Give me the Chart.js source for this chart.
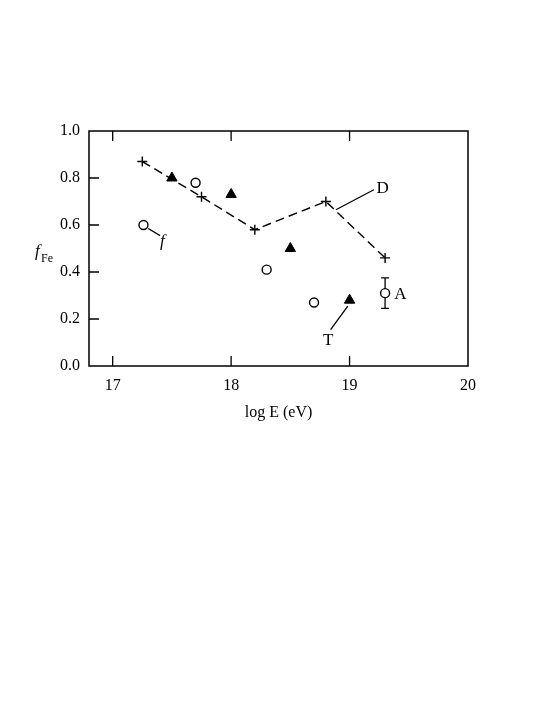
<!DOCTYPE html>
<html lang="en">
<head>
    <meta charset="UTF-8" />
    <title>fFe vs log E</title>
    <script src="https://cdn.jsdelivr.net/npm/chart.js"></script>
    <style>
        html, body { margin: 0; padding: 0; background: #fff; }
        #wrap { width: 545px; height: 705px; }
    </style>
</head>
<body>
    <div id="wrap"><canvas id="grafico"></canvas></div>

<script>
    // dados
    var xTicks = [17, 18, 19, 20];
    var yTicks = [0.0, 0.2, 0.4, 0.6, 0.8, 1.0];

    // D: cruzes com linha tracejada
    var d_logE = [17.25, 17.75, 18.2, 18.8, 19.3];
    var d_fFe = [0.87, 0.72, 0.58, 0.70, 0.46];

    // T: triangulos cheios
    var t_logE = [17.5, 18.0, 18.5, 19.0];
    var t_fFe = [0.80, 0.73, 0.50, 0.28];

    // f: circulos abertos
    var f_logE = [17.26, 17.7, 18.3, 18.7];
    var f_fFe = [0.60, 0.78, 0.41, 0.27];

    // A: circulo com barra de erro
    var a_logE = [19.3];
    var a_fFe = [0.31];
    var a_erro = [0.065];

    // rotulos com linhas de chamada (em unidades de dados)
    var rotulos = [
        { txt: 'f', italic: true, x: 17.42, y: 0.53, linha: [17.30, 0.585, 17.40, 0.555] },
        { txt: 'D', italic: false, x: 19.28, y: 0.755, linha: [18.885, 0.665, 19.205, 0.75] },
        { txt: 'T', italic: false, x: 18.82, y: 0.11, linha: [18.84, 0.155, 18.985, 0.255] },
        { txt: 'A', italic: false, x: 19.43, y: 0.305, linha: null }
    ];

    function pares(xs, ys) {
        var out = [];
        for (var i = 0; i < xs.length; i++) out.push({ x: xs[i], y: ys[i] });
        return out;
    }

    var fonte = '"Liberation Serif", "DejaVu Serif", serif';

    var moldura = {
        id: 'moldura',
        afterDraw: function (chart) {
            var ctx = chart.ctx;
            var a = chart.chartArea;
            var sx = chart.scales.x, sy = chart.scales.y;
            ctx.save();
            ctx.strokeStyle = '#000';
            ctx.lineWidth = 1.5;
            ctx.strokeRect(a.left, a.top, a.right - a.left, a.bottom - a.top);

            // marcas para dentro
            ctx.lineWidth = 1.3;
            ctx.beginPath();
            for (var i = 0; i < xTicks.length; i++) {
                var px = sx.getPixelForValue(xTicks[i]);
                if (px >= a.right - 1) continue;
                ctx.moveTo(px, a.bottom); ctx.lineTo(px, a.bottom - 10);
                ctx.moveTo(px, a.top); ctx.lineTo(px, a.top + 10);
            }
            for (var j = 0; j < yTicks.length; j++) {
                var py = sy.getPixelForValue(yTicks[j]);
                if (py <= a.top + 1 || py >= a.bottom - 1) continue;
                ctx.moveTo(a.left, py); ctx.lineTo(a.left + 10, py);
            }
            ctx.stroke();

            // barra de erro do A
            ctx.lineWidth = 1.3;
            ctx.beginPath();
            for (var k = 0; k < a_logE.length; k++) {
                var ex = sx.getPixelForValue(a_logE[k]);
                var y1 = sy.getPixelForValue(a_fFe[k] + a_erro[k]);
                var y2 = sy.getPixelForValue(a_fFe[k] - a_erro[k]);
                var yc = sy.getPixelForValue(a_fFe[k]);
                ctx.moveTo(ex, y1); ctx.lineTo(ex, yc - 4.5);
                ctx.moveTo(ex, yc + 4.5); ctx.lineTo(ex, y2);
                ctx.moveTo(ex - 4, y1); ctx.lineTo(ex + 4, y1);
                ctx.moveTo(ex - 4, y2); ctx.lineTo(ex + 4, y2);
            }
            ctx.stroke();

            // rotulos
            ctx.fillStyle = '#000';
            ctx.textAlign = 'center';
            ctx.textBaseline = 'middle';
            ctx.lineWidth = 1.3;
            rotulos.forEach(function (r) {
                if (r.linha) {
                    ctx.beginPath();
                    ctx.moveTo(sx.getPixelForValue(r.linha[0]), sy.getPixelForValue(r.linha[1]));
                    ctx.lineTo(sx.getPixelForValue(r.linha[2]), sy.getPixelForValue(r.linha[3]));
                    ctx.stroke();
                }
                ctx.font = (r.italic ? 'italic ' : '') + '17px ' + fonte;
                ctx.fillText(r.txt, sx.getPixelForValue(r.x), sy.getPixelForValue(r.y));
            });

            // titulo do eixo y: f com subscrito Fe
            ctx.textAlign = 'left';
            ctx.textBaseline = 'alphabetic';
            ctx.font = 'italic 17px ' + fonte;
            ctx.fillText('f', 35, 256);
            ctx.font = '12px ' + fonte;
            ctx.fillText('Fe', 41, 262);
            ctx.restore();
        }
    };

    new Chart(document.getElementById('grafico'), {
        type: 'scatter',
        data: {
            datasets: [
                {
                    label: 'D',
                    data: pares(d_logE, d_fFe),
                    showLine: true,
                    borderColor: '#000',
                    borderWidth: 1.4,
                    borderDash: [9, 5],
                    pointStyle: 'cross',
                    pointRadius: 5,
                    pointBorderWidth: 1.4,
                    pointBorderColor: '#000'
                },
                {
                    label: 'T',
                    data: pares(t_logE, t_fFe),
                    pointStyle: 'triangle',
                    pointRadius: 6,
                    pointBackgroundColor: '#000',
                    pointBorderColor: '#000',
                    pointBorderWidth: 1
                },
                {
                    label: 'f',
                    data: pares(f_logE, f_fFe),
                    pointStyle: 'circle',
                    pointRadius: 4.5,
                    pointBackgroundColor: '#fff',
                    pointBorderColor: '#000',
                    pointBorderWidth: 1.4
                },
                {
                    label: 'A',
                    data: pares(a_logE, a_fFe),
                    pointStyle: 'circle',
                    pointRadius: 4.5,
                    pointBackgroundColor: '#fff',
                    pointBorderColor: '#000',
                    pointBorderWidth: 1.4
                }
            ]
        },
        options: {
            responsive: true,
            maintainAspectRatio: false,
            animation: false,
            layout: { padding: { left: 0, top: 131, right: 77, bottom: 283 } },
            plugins: {
                legend: { display: false },
                tooltip: { enabled: false }
            },
            scales: {
                x: {
                    type: 'linear',
                    min: 16.8,
                    max: 20,
                    grid: { display: false, drawTicks: false },
                    border: { display: false },
                    afterBuildTicks: function (s) { s.ticks = xTicks.map(function (v) { return { value: v }; }); },
                    afterFit: function (s) { s.height = 56; },
                    ticks: {
                        padding: 10,
                        color: '#000',
                        font: { family: fonte, size: 16 },
                        callback: function (v) { return String(v); }
                    },
                    title: {
                        display: true,
                        text: 'log E (eV)',
                        color: '#000',
                        padding: 0,
                        font: { family: fonte, size: 16 }
                    }
                },
                y: {
                    type: 'linear',
                    min: 0,
                    max: 1,
                    grid: { display: false, drawTicks: false },
                    border: { display: false },
                    afterBuildTicks: function (s) { s.ticks = yTicks.map(function (v) { return { value: v }; }); },
                    afterFit: function (s) { s.width = 89; },
                    ticks: {
                        padding: 9,
                        color: '#000',
                        font: { family: fonte, size: 16 },
                        callback: function (v) { return Number(v).toFixed(1); }
                    }
                }
            }
        },
        plugins: [moldura]
    });
</script>
</body>
</html>
